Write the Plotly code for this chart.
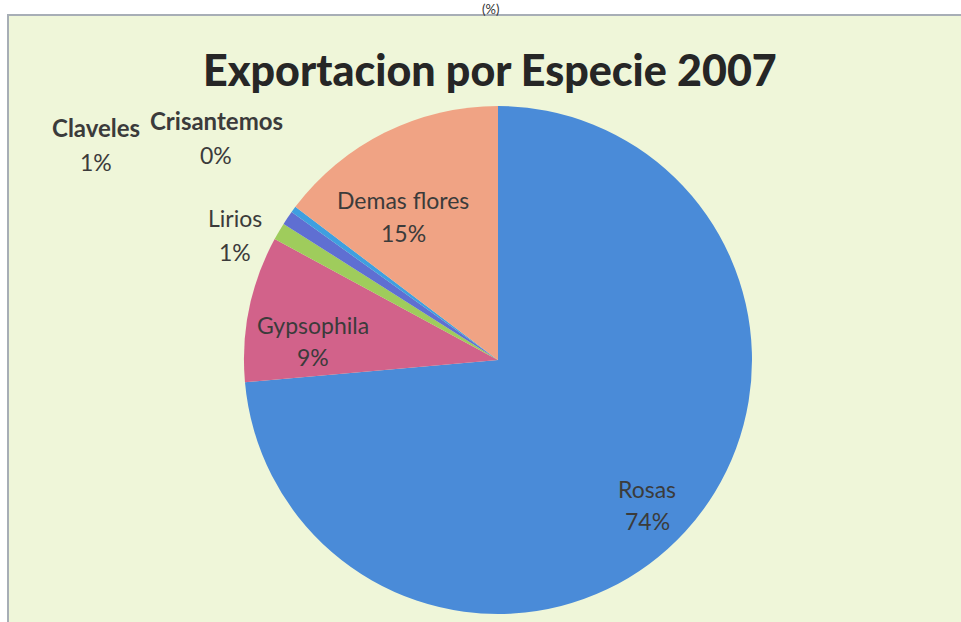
import plotly.graph_objects as go

# Flower exports by species, 2007 (share of total, %)
species = ["Rosas", "Gypsophila", "Lirios", "Claveles", "Crisantemos", "Demas flores"]
shares = [73.6, 9.3, 1.1, 0.9, 0.4, 14.7]
colors = ["#4a8bd8", "#d2628a", "#9fcc5c", "#5f6fd2", "#3f9fe0", "#f0a384"]

W, H = 961, 622
FONT = "Lato"

fig = go.Figure()

# pie centred at (498, 360) px with radius 254 px
cx, cy, r = 498, 360, 254
fig.add_trace(go.Pie(
    labels=species,
    values=shares,
    sort=False,
    direction="clockwise",
    rotation=0,
    marker=dict(colors=colors, line=dict(width=0)),
    textinfo="none",
    hoverinfo="label+percent",
    showlegend=False,
    domain=dict(x=[(cx - r) / W, (cx + r) / W],
                y=[1 - (cy + r) / H, 1 - (cy - r) / H]),
))

# label placement in px: centre x, name line y, percent line y, bold name
label_pos = {
    "Rosas": (647, 489, 521, False),
    "Gypsophila": (313, 325, 357, False),
    "Lirios": (235, 218, 252, False),
    "Claveles": (96, 128, 162, True),
    "Crisantemos": (216, 121, 155, True),
    "Demas flores": (403, 200, 233, False),
}

annotations = []
for name, val in zip(species, shares):
    px, py_name, py_val, bold = label_pos[name]
    head = f"<b>{name}</b>" if bold else name
    annotations.append(dict(
        x=px / W, y=1 - py_name / H, xref="paper", yref="paper",
        text=head, showarrow=False, xanchor="center", yanchor="middle",
        font=dict(family=FONT, size=24 if bold else 23, color="#3b3b3b"),
    ))
    annotations.append(dict(
        x=px / W, y=1 - py_val / H, xref="paper", yref="paper",
        text=f"{round(val)}%", showarrow=False, xanchor="center", yanchor="middle",
        font=dict(family=FONT, size=23, color="#3b3b3b"),
    ))

annotations.append(dict(
    x=490 / W, y=1 - 70 / H, xref="paper", yref="paper",
    text="Exportacion por Especie 2007", showarrow=False,
    xanchor="center", yanchor="middle",
    font=dict(family=FONT, size=43, color="#262626", weight=900),
))
annotations.append(dict(
    x=490 / W, y=1.0, xref="paper", yref="paper",
    text="(%)", showarrow=False, xanchor="center", yanchor="top",
    borderpad=0,
    font=dict(family=FONT, size=13, color="#333333"),
))

fig.update_layout(
    width=W, height=H,
    margin=dict(l=0, r=0, t=0, b=0),
    paper_bgcolor="white",
    plot_bgcolor="white",
    annotations=annotations,
    shapes=[dict(
        type="rect", xref="paper", yref="paper", layer="below",
        x0=8 / W, x1=1.02, y0=-0.02, y1=1 - 15 / H,
        fillcolor="#eff6d9", line=dict(color="#a7aeb6", width=2),
    )],
)

fig.write_html("out.html")
